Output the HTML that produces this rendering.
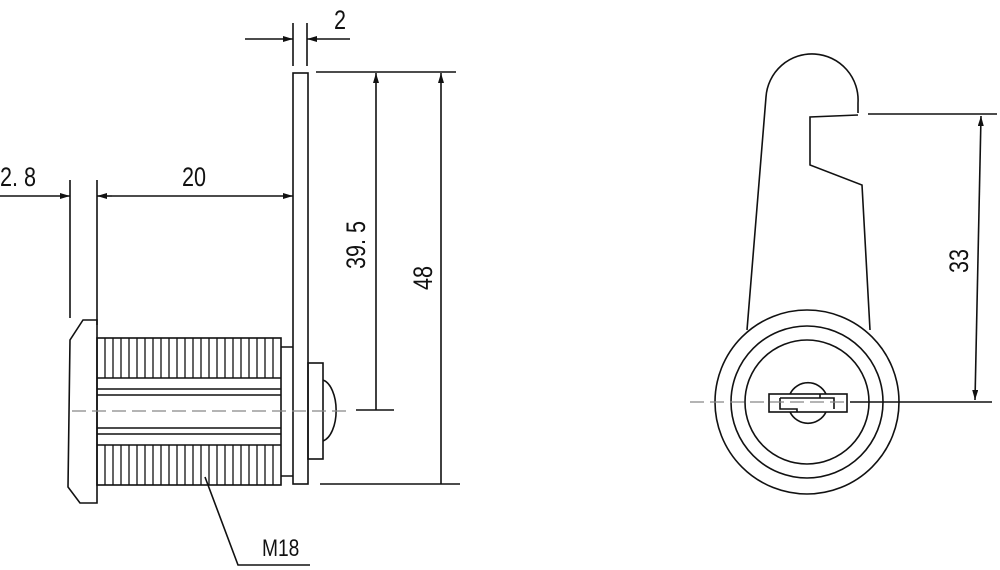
<!DOCTYPE html>
<html><head><meta charset="utf-8"><style>
html,body{margin:0;padding:0;background:#fff;}
svg{display:block;}
text{font-family:"Liberation Sans",sans-serif;font-size:27px;fill:#111;}
</style></head><body>
<svg width="1000" height="570" viewBox="0 0 1000 570" xmlns="http://www.w3.org/2000/svg">
<defs>
<marker id="a" viewBox="0 0 10 6" refX="10" refY="3" markerWidth="10" markerHeight="6" orient="auto-start-reverse" markerUnits="userSpaceOnUse"><path d="M0,0 L10,3 L0,6 z" fill="#111"/></marker>
</defs>
<g stroke="#111" stroke-width="1.6" fill="none">
<rect x="293" y="73" width="15" height="411"/>
<line x1="293" y1="23" x2="293" y2="66"/>
<line x1="307" y1="23" x2="307" y2="66"/>
<line x1="245" y1="39" x2="293" y2="39" marker-end="url(#a)"/>
<line x1="350" y1="39" x2="307" y2="39" marker-end="url(#a)"/>
<line x1="316" y1="72" x2="456" y2="72"/>
<line x1="376" y1="410" x2="376" y2="73" marker-end="url(#a)"/>
<line x1="441" y1="484" x2="441" y2="73" marker-end="url(#a)"/>
<line x1="356" y1="410" x2="394" y2="410"/>
<line x1="320" y1="484" x2="460" y2="484"/>
<line x1="70" y1="180" x2="70" y2="318"/>
<line x1="97" y1="180" x2="97" y2="325"/>
<line x1="0" y1="196" x2="70" y2="196" marker-end="url(#a)"/>
<line x1="97" y1="196" x2="112" y2="196" marker-start="url(#a)"/>
<line x1="112" y1="196" x2="293" y2="196" marker-end="url(#a)"/>
<path d="M97,320 L83,320 L70,340 L68,487 L80,503 L97,503 Z"/>
<rect x="97" y="338" width="184" height="147"/>
<line x1="97" y1="378" x2="281" y2="378"/>
<line x1="97" y1="389" x2="281" y2="389"/>
<line x1="97" y1="395" x2="281" y2="395"/>
<line x1="97" y1="428" x2="281" y2="428"/>
<line x1="97" y1="434" x2="281" y2="434"/>
<line x1="97" y1="445" x2="281" y2="445"/>
<path d="M105,338V378M113,338V378M121,338V378M129,338V378M137,338V378M145,338V378M153,338V378M161,338V378M169,338V378M177,338V378M185,338V378M193,338V378M201,338V378M209,338V378M217,338V378M225,338V378M233,338V378M241,338V378M249,338V378M257,338V378M265,338V378M273,338V378" stroke-width="1.3"/>
<path d="M105,445V485M113,445V485M121,445V485M129,445V485M137,445V485M145,445V485M153,445V485M161,445V485M169,445V485M177,445V485M185,445V485M193,445V485M201,445V485M209,445V485M217,445V485M225,445V485M233,445V485M241,445V485M249,445V485M257,445V485M265,445V485M273,445V485" stroke-width="1.3"/>
<path d="M281,347 H293 M281,476 H293"/>
<rect x="308" y="363" width="15" height="96"/>
<path d="M323,380 A16,31 0 0 1 323,441"/>
<line x1="72" y1="411" x2="350" y2="411" stroke="#888" stroke-width="1.2" stroke-dasharray="14,6"/>
<polyline points="205,477 238,565 310,565"/>
<path d="M747,330 L766,97 A46,46 0 0 1 858,103 L858,113 M858,115 L810,117 L810,165 L862,185 L870,330"/>
<circle cx="807" cy="402" r="92"/>
<circle cx="807" cy="402" r="76"/>
<circle cx="807" cy="402" r="62"/>
<path d="M790,394 A20,20 0 0 1 826,394 M790,412 A20,20 0 0 0 826,412"/>
<rect x="769" y="394" width="78" height="18"/>
<path d="M780,398 H820 V394 M780,398 V409 H797 V412 M820,398 H834 V409"/>
<line x1="690" y1="402" x2="850" y2="402" stroke="#888" stroke-width="1.2" stroke-dasharray="14,6"/>
<line x1="868" y1="114" x2="997" y2="114"/>
<line x1="850" y1="402" x2="992" y2="402"/>
<line x1="975" y1="400" x2="981" y2="116" marker-start="url(#a)" marker-end="url(#a)"/>
</g>
<text transform="translate(0,186) scale(0.8,1)">2. 8</text>
<text transform="translate(182,186) scale(0.8,1)">20</text>
<text transform="translate(334,29) scale(0.8,1)">2</text>
<text transform="translate(365,245) rotate(-90) scale(0.8,1)" text-anchor="middle">39. 5</text>
<text transform="translate(432,278) rotate(-90) scale(0.8,1)" text-anchor="middle">48</text>
<text transform="translate(968,261) rotate(-90) scale(0.8,1)" text-anchor="middle">33</text>
<text transform="translate(262,556) scale(0.8,1)" style="font-size:24px">M18</text>
</svg>
</body></html>
